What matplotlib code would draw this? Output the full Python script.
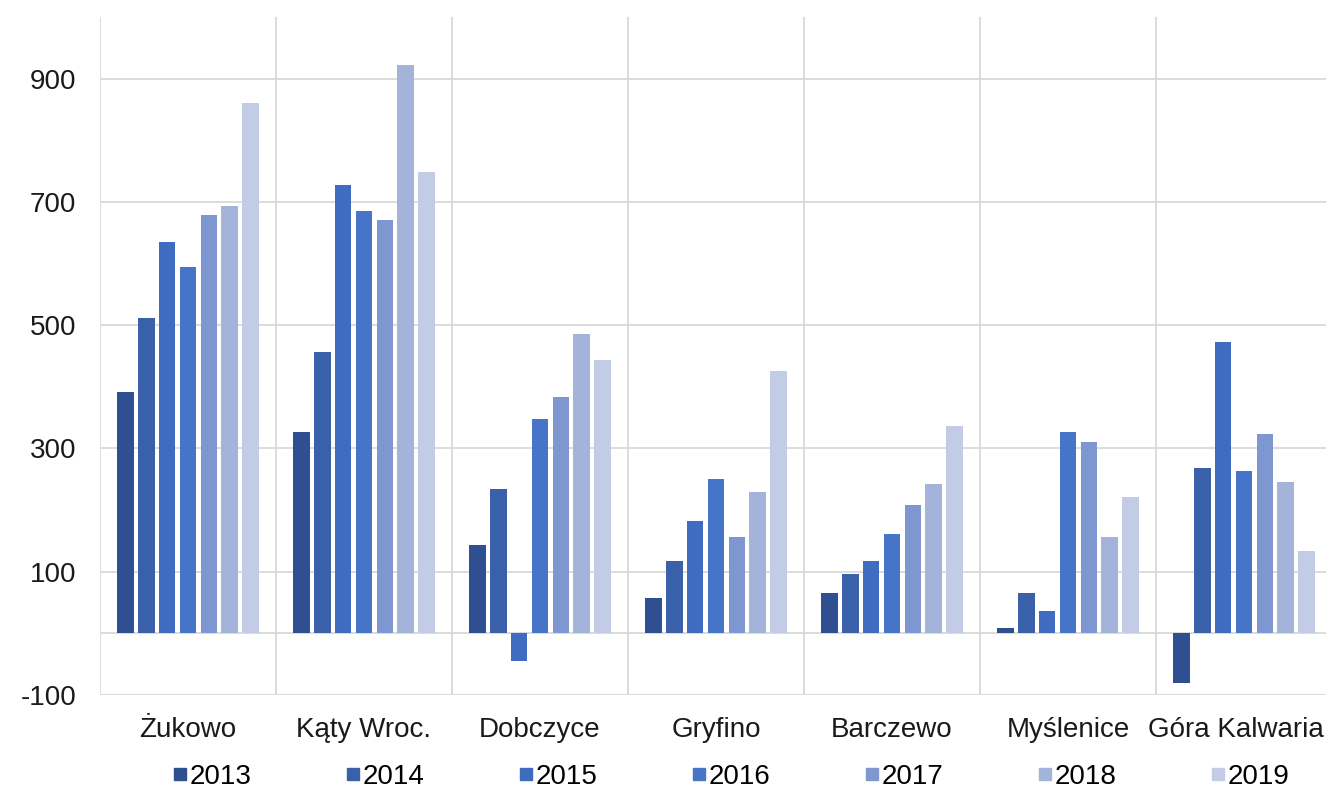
import matplotlib
matplotlib.use("Agg")
import matplotlib.pyplot as plt
import matplotlib.transforms as mtransforms
import numpy as np
from matplotlib.lines import Line2D

plt.rcParams['font.family'] = ['Liberation Sans', 'DejaVu Sans']

categories = ["Żukowo", "Kąty Wroc.", "Dobczyce", "Gryfino", "Barczewo", "Myślenice", "Góra Kalwaria"]
years = ["2013", "2014", "2015", "2016", "2017", "2018", "2019"]
v2013 = [391, 326, 144, 58, 65, 8, -81]
v2014 = [512, 457, 235, 118, 97, 66, 268]
v2015 = [635, 728, -45, 183, 117, 37, 472]
v2016 = [595, 685, 347, 250, 162, 327, 263]
v2017 = [678, 671, 384, 157, 208, 310, 324]
v2018 = [694, 922, 486, 229, 243, 157, 245]
v2019 = [860, 748, 444, 426, 336, 222, 133]
series = [v2013, v2014, v2015, v2016, v2017, v2018, v2019]
yticks = [-100, 100, 300, 500, 700, 900]

colors = ["#2F5090", "#3A60AA", "#3F6CC0", "#4674C8", "#7F97D0", "#A4B3DA", "#C3CCE6"]
grid_c = "#D9D9D9"
fs = 20

fig = plt.figure(figsize=(13.26, 7.91), dpi=100)
ax = fig.add_axes([100/1326, 96/791, 1232/1326, 678/791])

x = np.arange(len(categories))
pitch = 20.8/176
width = 16.5/176
for i, (vals, c, yr) in enumerate(zip(series, colors, years)):
    ax.bar(x + (i - 3) * pitch, vals, width=width, color=c, label=yr, zorder=3)

ax.set_xlim(-0.5, len(categories) - 0.5)
ax.set_ylim(-100, 1000)
ax.set_yticks(yticks)
ax.set_yticklabels([str(t) for t in yticks], fontsize=fs, color="#1a1a1a")
ax.set_xticks(x)
ax.set_xticklabels(categories, fontsize=fs, color="#1a1a1a")
ax.tick_params(axis='both', length=0)
ax.tick_params(axis='y', pad=17)
ax.tick_params(axis='x', pad=16)

# keep the last category label just inside the figure edge
last = ax.get_xticklabels()[-1]
last.set_transform(last.get_transform() + mtransforms.ScaledTranslation(-8/100, 0, fig.dpi_scale_trans))

for t in yticks + [0]:
    ax.axhline(t, color=grid_c, lw=1.3, zorder=1)
for b in np.arange(-0.5, len(categories), 1.0):
    ax.axvline(b, color=grid_c, lw=1.3, zorder=1)
for s in ax.spines.values():
    s.set_visible(False)

handles = [Line2D([0], [0], marker='s', linestyle='none', markersize=9,
                  markerfacecolor=c, markeredgecolor=c) for c in colors]
fig.legend(handles, years, loc='center', bbox_to_anchor=(731/1326, 1 - 777/791),
           ncol=7, frameon=False, fontsize=fs, handlelength=0.5, handletextpad=0.1,
           columnspacing=3.4, borderpad=0)

fig.savefig("out.png", dpi=100, facecolor="white")
